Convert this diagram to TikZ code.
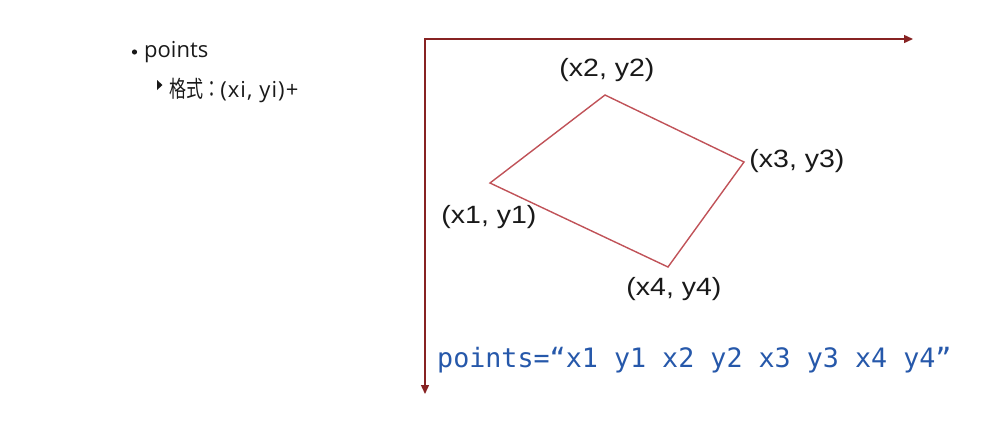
\documentclass[tikz,border=0pt]{standalone}
\usepackage{fontspec}
\usetikzlibrary{arrows.meta}
\newfontfamily\labfont[FakeStretch=1.14]{Liberation Sans}
\newfontfamily\codefont{DejaVu Sans Mono}
\newfontfamily\cjk[FakeStretch=0.74]{Noto Sans CJK SC}
\newfontfamily\cjkjp[FakeStretch=0.74]{Noto Sans CJK JP}
\newfontfamily\latn{Open Sans}
\newfontfamily\latnwide[LetterSpace=5]{Open Sans}
\definecolor{axisred}{RGB}{135,35,35}
\definecolor{polyred}{RGB}{192,82,88}
\definecolor{codeblue}{RGB}{38,88,170}
\definecolor{txtgray}{RGB}{25,25,25}
\begin{document}
\begin{tikzpicture}[x=1pt,y=-1pt,
  axis/.style={draw=axisred,line width=1.4pt,{Triangle[length=9pt,width=8pt]}-{Triangle[length=9pt,width=8pt]}},
  poly/.style={draw=polyred,line width=1.4pt,line join=miter},
  lab/.style={inner sep=0pt,font=\labfont\fontsize{25}{29}\selectfont,text=txtgray},
  code/.style={inner sep=0pt,anchor=base west,font=\codefont\fontsize{26.7}{30}\selectfont,text=codeblue},
  left/.style={inner sep=0pt,anchor=base west,font=\latn\fontsize{22}{26}\selectfont,text=txtgray}]
\useasboundingbox (0,0) rectangle (983,426);
% left text
\fill[txtgray] (134.5,52) circle (2.6);
\node[left] (pts) at (144,57) {points};
\fill[txtgray] (157,80) -- (162.5,85) -- (157,90) -- cycle;
\node[left] (fmt) at (169,97) {{\cjk\fontsize{23}{26}\selectfont 格式}{\cjkjp\fontsize{23}{26}\selectfont ：}{\latnwide (xi, yi)+}};
% axes
\coordinate (o) at (425,39);
\coordinate (xend) at (913,39);
\coordinate (yend) at (425,394);
\draw[axis] (yend) -- (o) -- (xend);
% polygon
\coordinate (p1) at (490,183);
\coordinate (p2) at (605,95);
\coordinate (p3) at (744,162);
\coordinate (p4) at (668,267);
\draw[poly] (p1) -- (p2) -- (p3) -- (p4) -- cycle;
% labels
\node[lab] (l2) at (607,70) {(x2, y2)};
\node[lab] (l3) at (797,161) {(x3, y3)};
\node[lab] (l1) at (489,217) {(x1, y1)};
\node[lab] (l4) at (674,289) {(x4, y4)};
% code
\node[code] (c) at (437,367) {points=“x1 y1 x2 y2 x3 y3 x4 y4”};
\end{tikzpicture}
\end{document}
